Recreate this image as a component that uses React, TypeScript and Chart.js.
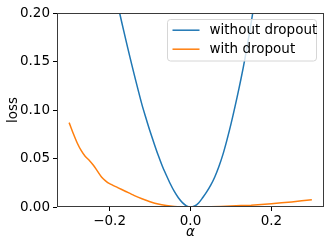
import React, { useEffect, useRef } from "react";
import { Chart, registerables } from "chart.js";

Chart.register(...registerables);

const blueAlpha = [-0.2, -0.19, -0.18, -0.17, -0.16, -0.15, -0.14, -0.13, -0.12, -0.11, -0.1, -0.09, -0.08, -0.07, -0.06, -0.05, -0.04, -0.03, -0.02, -0.01, 0.0, 0.01, 0.02, 0.03, 0.04, 0.05, 0.06, 0.07, 0.08, 0.09, 0.1, 0.11, 0.12, 0.13, 0.14, 0.15, 0.16, 0.17, 0.18];
const blueLoss = [0.247, 0.228, 0.209, 0.1905, 0.1725, 0.155, 0.138, 0.1215, 0.1055, 0.0915, 0.078, 0.0655, 0.0535, 0.0425, 0.033, 0.024, 0.016, 0.0095, 0.0045, 0.0012, 0.0, 0.001, 0.0042, 0.0095, 0.0155, 0.0225, 0.031, 0.0415, 0.054, 0.069, 0.0855, 0.1035, 0.1225, 0.143, 0.1655, 0.19, 0.2165, 0.244, 0.2725];

const orangeAlpha = [-0.3, -0.29, -0.28, -0.27, -0.26, -0.25, -0.24, -0.23, -0.22, -0.21, -0.2, -0.18, -0.16, -0.14, -0.12, -0.1, -0.08, -0.06, -0.04, -0.02, 0.0, 0.05, 0.1, 0.15, 0.2, 0.25, 0.3];
const orangeLoss = [0.087, 0.076, 0.066, 0.058, 0.052, 0.048, 0.043, 0.037, 0.031, 0.027, 0.024, 0.02, 0.016, 0.012, 0.0085, 0.0055, 0.003, 0.0015, 0.0006, 0.0002, 0.0, 0.0003, 0.001, 0.0019, 0.0034, 0.0052, 0.0075];

const seriesLabels = ["without dropout", "with dropout"];
const seriesColors = ["#1f77b4", "#ff7f0e"];
const xTicks = [-0.2, 0.0, 0.2];
const yTicks = [0.0, 0.05, 0.1, 0.15, 0.2];
const xTitle = "α";
const yTitle = "loss";

const FONT = "'DejaVu Sans', sans-serif";
const FS = 13.5;

const framePlugin = {
  id: "frame",
  afterDatasetsDraw(chart: any) {
    const { ctx, chartArea } = chart;
    ctx.save();
    ctx.strokeStyle = "#3a3a3a";
    ctx.lineWidth = 1;
    ctx.strokeRect(
      Math.round(chartArea.left) + 0.5,
      Math.round(chartArea.top) + 0.5,
      Math.round(chartArea.right - chartArea.left) - 1,
      Math.round(chartArea.bottom - chartArea.top) - 1
    );
    ctx.restore();
  },
};

const legendPlugin = {
  id: "mplLegend",
  afterDraw(chart: any) {
    const { ctx, chartArea } = chart;
    const right = chartArea.right - 7.5;
    const top = chartArea.top + 6.5;
    const w = 149;
    const h = 41.5;
    const left = right - w;
    ctx.save();
    ctx.beginPath();
    const r = 3;
    ctx.moveTo(left + r, top);
    ctx.lineTo(left + w - r, top);
    ctx.quadraticCurveTo(left + w, top, left + w, top + r);
    ctx.lineTo(left + w, top + h - r);
    ctx.quadraticCurveTo(left + w, top + h, left + w - r, top + h);
    ctx.lineTo(left + r, top + h);
    ctx.quadraticCurveTo(left, top + h, left, top + h - r);
    ctx.lineTo(left, top + r);
    ctx.quadraticCurveTo(left, top, left + r, top);
    ctx.closePath();
    ctx.fillStyle = "rgba(255,255,255,0.8)";
    ctx.fill();
    ctx.strokeStyle = "#d6d6d6";
    ctx.lineWidth = 1;
    ctx.stroke();
    ctx.font = `${FS}px ${FONT}`;
    ctx.textBaseline = "middle";
    ctx.textAlign = "left";
    chart.data.datasets.forEach((ds: any, i: number) => {
      const y = top + 10.7 + i * 19;
      ctx.strokeStyle = ds.borderColor;
      ctx.lineWidth = 1.5;
      ctx.beginPath();
      ctx.moveTo(left + 5, y);
      ctx.lineTo(left + 32, y);
      ctx.stroke();
      ctx.fillStyle = "#000";
      ctx.fillText(ds.label, left + 42, y);
    });
    ctx.restore();
  },
};

export default function App() {
  const ref = useRef<HTMLCanvasElement>(null);
  useEffect(() => {
    document.body.style.margin = "0";
    const canvas = ref.current!;
    const chart = new Chart(canvas, {
      type: "line",
      data: {
        datasets: [
          {
            label: seriesLabels[0],
            data: blueAlpha.map((x, i) => ({ x, y: blueLoss[i] })),
            borderColor: seriesColors[0],
            backgroundColor: seriesColors[0],
            borderWidth: 1.5,
            pointRadius: 0,
            tension: 0.3,
            fill: false,
          },
          {
            label: seriesLabels[1],
            data: orangeAlpha.map((x, i) => ({ x, y: orangeLoss[i] })),
            borderColor: seriesColors[1],
            backgroundColor: seriesColors[1],
            borderWidth: 1.5,
            pointRadius: 0,
            tension: 0.2,
            fill: false,
          },
        ],
      },
      options: {
        animation: false,
        responsive: false,
        devicePixelRatio: 1,
        layout: { padding: { top: 13, right: 8, left: 0, bottom: 0 } },
        plugins: { legend: { display: false }, tooltip: { enabled: false } },
        scales: {
          x: {
            type: "linear",
            min: -0.33,
            max: 0.33,
            afterBuildTicks: (s: any) => {
              s.ticks = xTicks.map((v) => ({ value: v }));
            },
            afterFit: (s: any) => {
              s.height = 42;
            },
            grid: { drawOnChartArea: false, tickLength: 4, tickColor: "#000", tickWidth: 1 },
            border: { display: false },
            ticks: {
              color: "#000",
              font: { family: FONT, size: FS },
              padding: 2,
              maxRotation: 0,
              callback: (v: any) => {
                const n = Number(v);
                const s = Math.abs(n).toFixed(1);
                return n < -1e-9 ? "\u2212" + s : s;
              },
            },
            title: {
              display: true,
              text: xTitle,
              color: "#000",
              font: { family: FONT, size: FS, style: "italic" },
              padding: { top: 0, bottom: 8 },
            },
          },
          y: {
            type: "linear",
            min: 0,
            max: 0.2,
            afterBuildTicks: (s: any) => {
              s.ticks = yTicks.map((v) => ({ value: v }));
            },
            afterFit: (s: any) => {
              s.width = 57;
            },
            grid: { drawOnChartArea: false, tickLength: 4, tickColor: "#000", tickWidth: 1 },
            border: { display: false },
            ticks: {
              color: "#000",
              font: { family: FONT, size: FS },
              padding: 3,
              callback: (v: any) => Number(v).toFixed(2),
            },
            title: {
              display: true,
              text: yTitle,
              color: "#000",
              font: { family: FONT, size: FS },
              padding: { top: 5, bottom: 0 },
            },
          },
        },
      },
      plugins: [framePlugin, legendPlugin],
    });
    return () => chart.destroy();
  }, []);
  return <canvas ref={ref} width={332} height={249} style={{ display: "block" }} />;
}
